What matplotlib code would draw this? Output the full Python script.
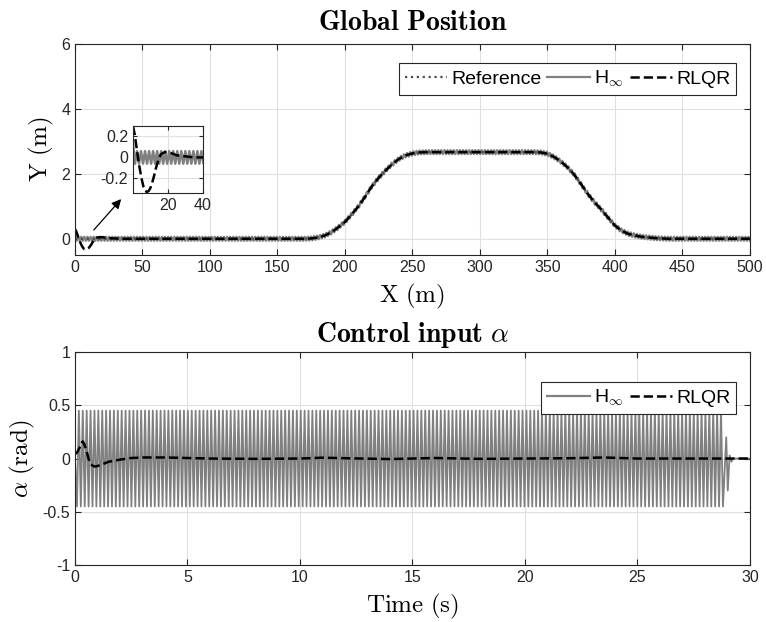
import numpy as np
import matplotlib
matplotlib.use('Agg')
import matplotlib.pyplot as plt

plt.rcParams['font.family'] = ['Liberation Sans', 'DejaVu Sans']
plt.rcParams['mathtext.fontset'] = 'cm'
plt.rcParams['axes.unicode_minus'] = False

# reference path (X m, Y m)
ref_x = [0, 170, 175, 180, 185, 190, 195, 200, 205, 210, 215, 220, 225, 230, 235,
         240, 245, 250, 255, 260, 340, 345, 350, 355, 360, 365, 370, 375, 380, 385,
         390, 395, 400, 405, 410, 415, 420, 430, 440, 500]
ref_y = [0, 0, 0.01, 0.04, 0.1, 0.2, 0.35, 0.52, 0.75, 1.0, 1.3, 1.62, 1.88, 2.1, 2.3,
         2.46, 2.57, 2.63, 2.66, 2.67, 2.67, 2.66, 2.62, 2.52, 2.38, 2.2, 1.97, 1.68, 1.38, 1.12,
         0.9, 0.65, 0.41, 0.25, 0.15, 0.1, 0.06, 0.02, 0, 0]

# RLQR start transient (then it sits on the reference)
rlqr_x0 = [0, 1, 2, 3, 4, 5, 6, 7, 8, 9, 10, 11, 12, 13, 14, 15, 16, 18, 20, 22, 25, 30, 35, 40]
rlqr_y0 = [0.3, 0.22, 0.1, -0.02, -0.12, -0.21, -0.28, -0.32, -0.33, -0.32, -0.29, -0.24,
           -0.18, -0.11, -0.05, 0.0, 0.03, 0.05, 0.05, 0.04, 0.02, 0.01, 0.0, 0.0]

# H-inf wiggles around the path
hinf_y_start = 0.14
hinf_amp = 0.06       # m
hinf_halfper = 1.15   # m

# control input alpha
t_rlqr = [0, 0.1, 0.2, 0.3, 0.35, 0.4, 0.5, 0.6, 0.7, 0.8, 0.9, 1.0, 1.2, 1.5, 2.0, 2.5,
          3, 4, 5, 6, 8, 10, 11, 12, 14, 16, 18, 20, 22, 23.5, 25, 27, 30]
a_rlqr = [0.04, 0.06, 0.1, 0.15, 0.16, 0.14, 0.08, 0.0, -0.05, -0.07, -0.075, -0.07, -0.055,
          -0.03, -0.01, 0.005, 0.01, 0.01, 0.005, 0.0, -0.003, 0.0, 0.008, 0.003, -0.005,
          0.005, -0.003, 0.0, 0.003, 0.01, 0.0, 0.0, 0.0]
hinf_a_amp = 0.45
hinf_a_halfper = 0.0865
hinf_a_end = 28.85
hinf_tail_t = [28.95, 29.02, 29.1, 29.18, 29.25, 30]
hinf_tail_a = [0.2, -0.3, 0.03, -0.03, 0.0, 0.0]

# build series
hx = np.arange(0, 500 + hinf_halfper, hinf_halfper)
hy = np.interp(hx, ref_x, ref_y) + hinf_amp * (-1.0) ** np.arange(len(hx))
hy[0] = hinf_y_start
rlqr_x = rlqr_x0 + [x for x in ref_x if x > 40]
rlqr_y = rlqr_y0 + [y for x, y in zip(ref_x, ref_y) if x > 40]

ht = np.arange(0, hinf_a_end, hinf_a_halfper)
ha = hinf_a_amp * (-1.0) ** np.arange(len(ht))
ha[0] = 0
ht = np.concatenate([ht, hinf_tail_t])
ha = np.concatenate([ha, hinf_tail_a])

grey = '0.5'
spine_c = '0.15'


def style(ax):
    ax.grid(True, color='0.88', lw=0.8)
    ax.set_axisbelow(True)
    ax.tick_params(direction='in', top=True, right=True, labelsize=11.5, length=4,
                   color=spine_c, labelcolor=spine_c)
    for s in ax.spines.values():
        s.set_color(spine_c)
        s.set_linewidth(0.8)


fig = plt.figure(figsize=(7.66, 6.22), dpi=100)

ax1 = fig.add_axes([0.0979, 0.590, 0.881, 0.3392])
ax1.plot(hx, hy, '-', color=grey, lw=1.7)
ax1.plot(ref_x, ref_y, ':', color='0.3', lw=1.6)
ax1.plot(rlqr_x, rlqr_y, '--', color='k', lw=1.8)
ax1.set_xlim(0, 500)
ax1.set_ylim(-0.5, 6)
ax1.set_xticks(np.arange(0, 501, 50))
ax1.set_yticks([0, 2, 4, 6])
style(ax1)
ax1.set_title(r'$\mathbf{Global\ Position}$', fontsize=20, pad=10)
ax1.set_xlabel(r'$\mathrm{X\ (m)}$', fontsize=18, labelpad=5)
ax1.set_ylabel(r'$\mathrm{Y\ (m)}$', fontsize=18, labelpad=4)
h_ref, = ax1.plot([], [], ':', color='0.3', lw=1.6)
h_hinf, = ax1.plot([], [], '-', color=grey, lw=1.6)
h_rlqr, = ax1.plot([], [], '--', color='k', lw=1.8)
leg = ax1.legend([h_ref, h_hinf, h_rlqr], ['Reference', r'H$_\infty$', 'RLQR'], ncol=3,
                 loc='upper right', bbox_to_anchor=(0.98, 0.91), borderaxespad=0,
                 fontsize=14, fancybox=False, edgecolor=spine_c, framealpha=1,
                 handlelength=2.2, handletextpad=0.2, columnspacing=0.3, borderpad=0.3)
leg.get_frame().set_linewidth(0.8)

# inset zoom on the start
axi = fig.add_axes([0.1736, 0.6897, 0.0914, 0.1077])
axi.plot(hx, hy, '-', color=grey, lw=1.8)
axi.plot(rlqr_x, rlqr_y, '--', color='k', lw=1.8)
axi.set_xlim(0, 40)
axi.set_ylim(-0.34, 0.3)
axi.set_xticks([20, 40])
axi.set_yticks([-0.2, 0, 0.2])
axi.set_yticklabels(['-0.2', '0', '0.2'])
style(axi)
axi.tick_params(labelsize=11.5, length=3)
fig.add_artist(matplotlib.patches.FancyArrowPatch(
    (0.1201, 0.627), (0.1606, 0.6833), transform=fig.transFigure,
    arrowstyle='-|>', mutation_scale=14, color='k', lw=0.9))

ax2 = fig.add_axes([0.0979, 0.0916, 0.881, 0.3424])
ax2.plot(ht, ha, '-', color=grey, lw=1.3)
ax2.plot(t_rlqr, a_rlqr, '--', color='k', lw=1.8)
ax2.set_xlim(0, 30)
ax2.set_ylim(-1, 1)
ax2.set_xticks(np.arange(0, 31, 5))
ax2.set_yticks([-1, -0.5, 0, 0.5, 1])
ax2.set_yticklabels(['-1', '-0.5', '0', '0.5', '1'])
style(ax2)
ax2.set_title(r'$\mathbf{Control\ input}\ \alpha$', fontsize=20, pad=7)
ax2.set_xlabel(r'$\mathrm{Time\ (s)}$', fontsize=18, labelpad=5)
ax2.set_ylabel(r'$\alpha\ \mathrm{(rad)}$', fontsize=18, labelpad=4)
h_hinf2, = ax2.plot([], [], '-', color=grey, lw=1.6)
h_rlqr2, = ax2.plot([], [], '--', color='k', lw=1.8)
leg2 = ax2.legend([h_hinf2, h_rlqr2], [r'H$_\infty$', 'RLQR'], ncol=2,
                  loc='upper right', bbox_to_anchor=(0.98, 0.859), borderaxespad=0,
                  fontsize=14, fancybox=False, edgecolor=spine_c, framealpha=1,
                  handlelength=2.2, handletextpad=0.2, columnspacing=0.3, borderpad=0.3)
leg2.get_frame().set_linewidth(0.8)

fig.savefig('out.png', dpi=100)
